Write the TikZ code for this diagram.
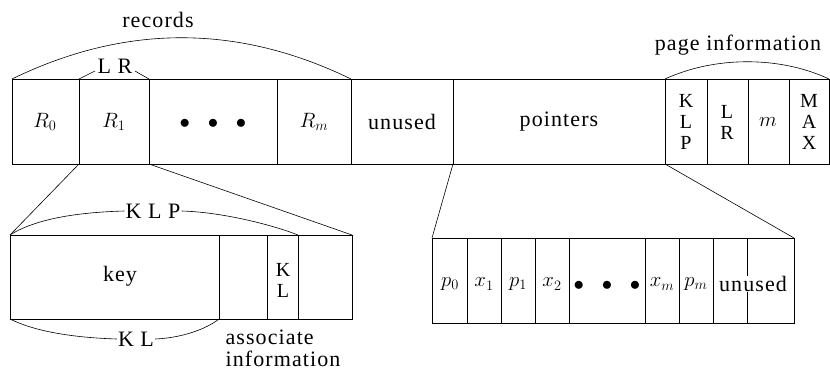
\documentclass[tikz,border=0pt]{standalone}
\usepackage{fontspec}
\setmainfont{Liberation Serif}[LetterSpace=5]
\begin{document}
\begin{tikzpicture}[x=1pt,y=-1pt,
  box/.style={draw,line width=0.9pt},
  thin/.style={line width=0.6pt},
  lbl/.style={inner sep=1pt,font=\fontsize{22}{22}\selectfont},
  stack/.style={inner sep=0pt,align=center,font=\fontsize{20}{21}\selectfont}]
\useasboundingbox (0,0) rectangle (830,371);
% ---------- top strip ----------
\coordinate (TL) at (12,79);
\coordinate (BR) at (829,164);
\draw[box] (TL) rectangle (BR);
\foreach \x/\n in {79/a,149/b,277/c,351/d,453/e,665/f,707/g,748/h,789/i}{
  \coordinate (t\n) at (\x,79);
  \coordinate (b\n) at (\x,164);
  \draw[thin] (t\n) -- (b\n);
}
\node[lbl] (r0) at (45,122) {$R_0$};
\node[lbl] (r1) at (114,122) {$R_1$};
\node[lbl] (dots1) at (213,124) {$\bullet\ \ \bullet\ \ \bullet$};
\node[lbl] (rm) at (314,122) {$R_m$};
\node[lbl] (unused1) at (402,122) {unused};
\node[lbl] (pointers) at (559,122) {pointers};
\node[stack] (klp) at (686,122) {K\\L\\P};
\node[stack] (lr2) at (727,122) {L\\R};
\node[lbl] (m) at (768,122) {$m$};
\node[stack] (max) at (809,122) {M\\A\\X};
% records arc
\node[lbl] (records) at (158,20) {records};
\draw[thin] (TL) .. controls (125,24) and (238,24) .. (td);
\node[lbl] (lr) at (115,66) {L R};
\draw[thin] (ta) -- (95,71);
\draw[thin] (135,71) -- (tb);
% page information arc
\node[lbl] (pageinfo) at (738,45) {page information};
\coordinate (TR) at (829,79);
\draw[thin] (tf) .. controls (715,56) and (780,56) .. (TR);
% ---------- bottom-left record box ----------
\coordinate (LTL) at (10,235);
\coordinate (LBR) at (352,319);
\draw[box] (LTL) rectangle (LBR);
\foreach \x/\n in {219/a,267/b,298/c}{
  \coordinate (lt\n) at (\x,235);
  \coordinate (lb\n) at (\x,319);
  \draw[thin] (lt\n) -- (lb\n);
}
\coordinate (LTR) at (352,235);
\coordinate (LBL) at (10,319);
\node[lbl] (key) at (120,276) {key};
\node[stack] (kl) at (283,280) {K\\L};
\draw[thin] (ba) -- (LTL);
\draw[thin] (bb) -- (LTR);
\node[lbl] (klplab) at (153,211) {K L P};
\draw[thin] (LTL) .. controls (40,216) and (90,212) .. (klplab.west);
\draw[thin] (klplab.east) .. controls (220,212) and (270,224) .. (ltc);
\node[lbl] (kllab) at (136,339) {K L};
\draw[thin] (LBL) .. controls (40,334) and (85,338) .. (kllab.west);
\draw[thin] (kllab.east) .. controls (180,338) and (205,330) .. (lba);
\node[inner sep=0pt,align=left,font=\fontsize{22}{22}\selectfont] (assoc) at (283,348) {associate\\information};
% ---------- bottom-right pointer box ----------
\coordinate (PTL) at (432,238);
\coordinate (PBR) at (794,323);
\coordinate (PTR) at (794,238);
\draw[box] (PTL) rectangle (PBR);
\foreach \x/\n in {467/a,501/b,535/c,569/d,645/e,679/f,713/g,747/h}{
  \coordinate (pt\n) at (\x,238);
  \coordinate (pb\n) at (\x,323);
  \draw[thin] (pt\n) -- (pb\n);
}
\draw[thin] (be) -- (PTL);
\draw[thin] (bf) -- (PTR);
\node[lbl] (p0) at (450,284) {$p_0$};
\node[lbl] (x1) at (484,284) {$x_1$};
\node[lbl] (p1) at (518,284) {$p_1$};
\node[lbl] (x2) at (552,284) {$x_2$};
\node[lbl] (dots2) at (607,286) {$\bullet\ \ \bullet\ \ \bullet$};
\node[lbl] (xm) at (662,284) {$x_m$};
\node[lbl] (pm) at (696,284) {$p_m$};
\node[lbl,fill=white,inner sep=0pt] (unused2) at (753,284) {unused};
\end{tikzpicture}
\end{document}
